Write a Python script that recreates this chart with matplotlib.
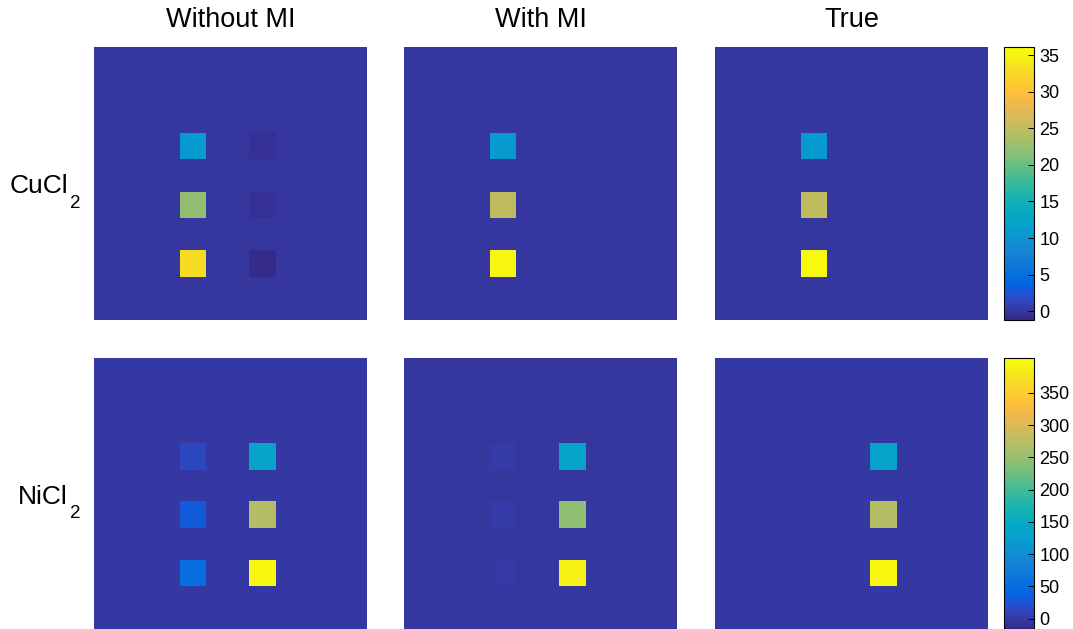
import numpy as np
import matplotlib
matplotlib.use("Agg")
import matplotlib.pyplot as plt
from matplotlib.colors import LinearSegmentedColormap

plt.rcParams['font.family'] = ['Liberation Sans', 'DejaVu Sans']

# column titles and row labels (formula, subscript)
col_titles = ["Without MI", "With MI", "True"]
row_labels = [("CuCl", "2"), ("NiCl", "2")]

# map grid: 51 x 51 pixels, 5x5 pixel test squares
n_pix = 51
sq_size = 5
sq_rows = [16, 27, 38]      # top pixel row of each square
sq_cols = [16, 29]          # left pixel column of the two square columns

# CuCl2 concentration per square (left column, right column)
cucl2_bg = [0.0, 0.0, 0.0]
cucl2_left = [[10.8, 22.2, 32.9], [10.8, 25.0, 35.5], [10.8, 25.0, 36.0]]
cucl2_right = [[-0.6, -0.6, -1.0], [0.0, 0.0, 0.0], [0.0, 0.0, 0.0]]
cucl2_clim = (-1.2, 36.1)
cucl2_ticks = [0, 5, 10, 15, 20, 25, 30, 35]

# NiCl2 concentration per square
nicl2_bg = [0.0, -2.0, 0.0]
nicl2_left = [[14.0, 31.0, 54.0], [3.0, 3.0, 2.0], [0.0, 0.0, 0.0]]
nicl2_right = [[137.0, 270.0, 400.0], [135.0, 245.0, 390.0], [135.0, 270.0, 400.0]]
nicl2_clim = (-15.9, 403.8)
nicl2_ticks = [0, 50, 100, 150, 200, 250, 300, 350]

# parula (every other entry of the 64-colour table)
parula_rgb = [
    (0.2081, 0.1663, 0.5292), (0.2123, 0.2138, 0.6270), (0.1959, 0.2645, 0.7279),
    (0.1253, 0.3242, 0.8303), (0.0117, 0.3875, 0.8820), (0.0165, 0.4266, 0.8786),
    (0.0498, 0.4586, 0.8641), (0.0723, 0.4887, 0.8467), (0.0793, 0.5200, 0.8312),
    (0.0641, 0.5570, 0.8240), (0.0343, 0.5966, 0.8199), (0.0239, 0.6287, 0.8038),
    (0.0228, 0.6535, 0.7768), (0.0384, 0.6743, 0.7436), (0.0843, 0.6928, 0.7062),
    (0.1453, 0.7098, 0.6646), (0.2178, 0.7250, 0.6193), (0.3022, 0.7376, 0.5712),
    (0.3953, 0.7459, 0.5244), (0.4871, 0.7491, 0.4840), (0.5709, 0.7485, 0.4494),
    (0.6473, 0.7456, 0.4188), (0.7184, 0.7411, 0.3905), (0.7858, 0.7356, 0.3633),
    (0.8507, 0.7299, 0.3360), (0.9139, 0.7258, 0.3063), (0.9739, 0.7314, 0.2666),
    (0.9990, 0.7653, 0.2164), (0.9880, 0.8066, 0.1794), (0.9697, 0.8481, 0.1475),
    (0.9589, 0.8949, 0.1132), (0.9661, 0.9514, 0.0755), (0.9763, 0.9831, 0.0538),
]
parula = LinearSegmentedColormap.from_list("parula", parula_rgb)


def make_map(bg, left, right):
    img = np.full((n_pix, n_pix), bg)
    for r, vl, vr in zip(sq_rows, left, right):
        img[r:r + sq_size, sq_cols[0]:sq_cols[0] + sq_size] = vl
        img[r:r + sq_size, sq_cols[1]:sq_cols[1] + sq_size] = vr
    return img


W, H = 1073, 629
fig = plt.figure(figsize=(W / 100, H / 100), dpi=100)

col_x = [94, 404, 715]
row_y = [47, 358]
row_h = [273, 271]
size = 273
cb_x, cb_w = 1004, 30

rows = [
    (cucl2_bg, cucl2_left, cucl2_right, cucl2_clim, cucl2_ticks),
    (nicl2_bg, nicl2_left, nicl2_right, nicl2_clim, nicl2_ticks),
]

for i, (bg, left, right, clim, ticks) in enumerate(rows):
    y0, h = row_y[i], row_h[i]
    for j in range(3):
        ax = fig.add_axes([col_x[j] / W, 1 - (y0 + h) / H, size / W, h / H])
        im = ax.imshow(make_map(bg[j], left[j], right[j]), cmap=parula,
                       vmin=clim[0], vmax=clim[1], interpolation='nearest',
                       aspect='auto')
        ax.axis('off')
    cax = fig.add_axes([cb_x / W, 1 - (y0 + h) / H, cb_w / W, h / H])
    cb = fig.colorbar(im, cax=cax, ticks=ticks)
    cb.outline.set_linewidth(0.8)
    cax.tick_params(direction='in', length=4, width=0.7, labelsize=13, pad=4)

    # formula with a low-set subscript
    name, sub = row_labels[i]
    fig.text(68 / W, 1 - (y0 + 139) / H, name, fontsize=19,
             ha='right', va='center')
    fig.text(70 / W, 1 - (y0 + 156) / H, sub, fontsize=13.5,
             ha='left', va='center')

for j, t in enumerate(col_titles):
    fig.text((col_x[j] + size / 2) / W, 1 - 20 / H, t, fontsize=19.5,
             ha='center', va='center')

fig.savefig("out.png", dpi=100)
